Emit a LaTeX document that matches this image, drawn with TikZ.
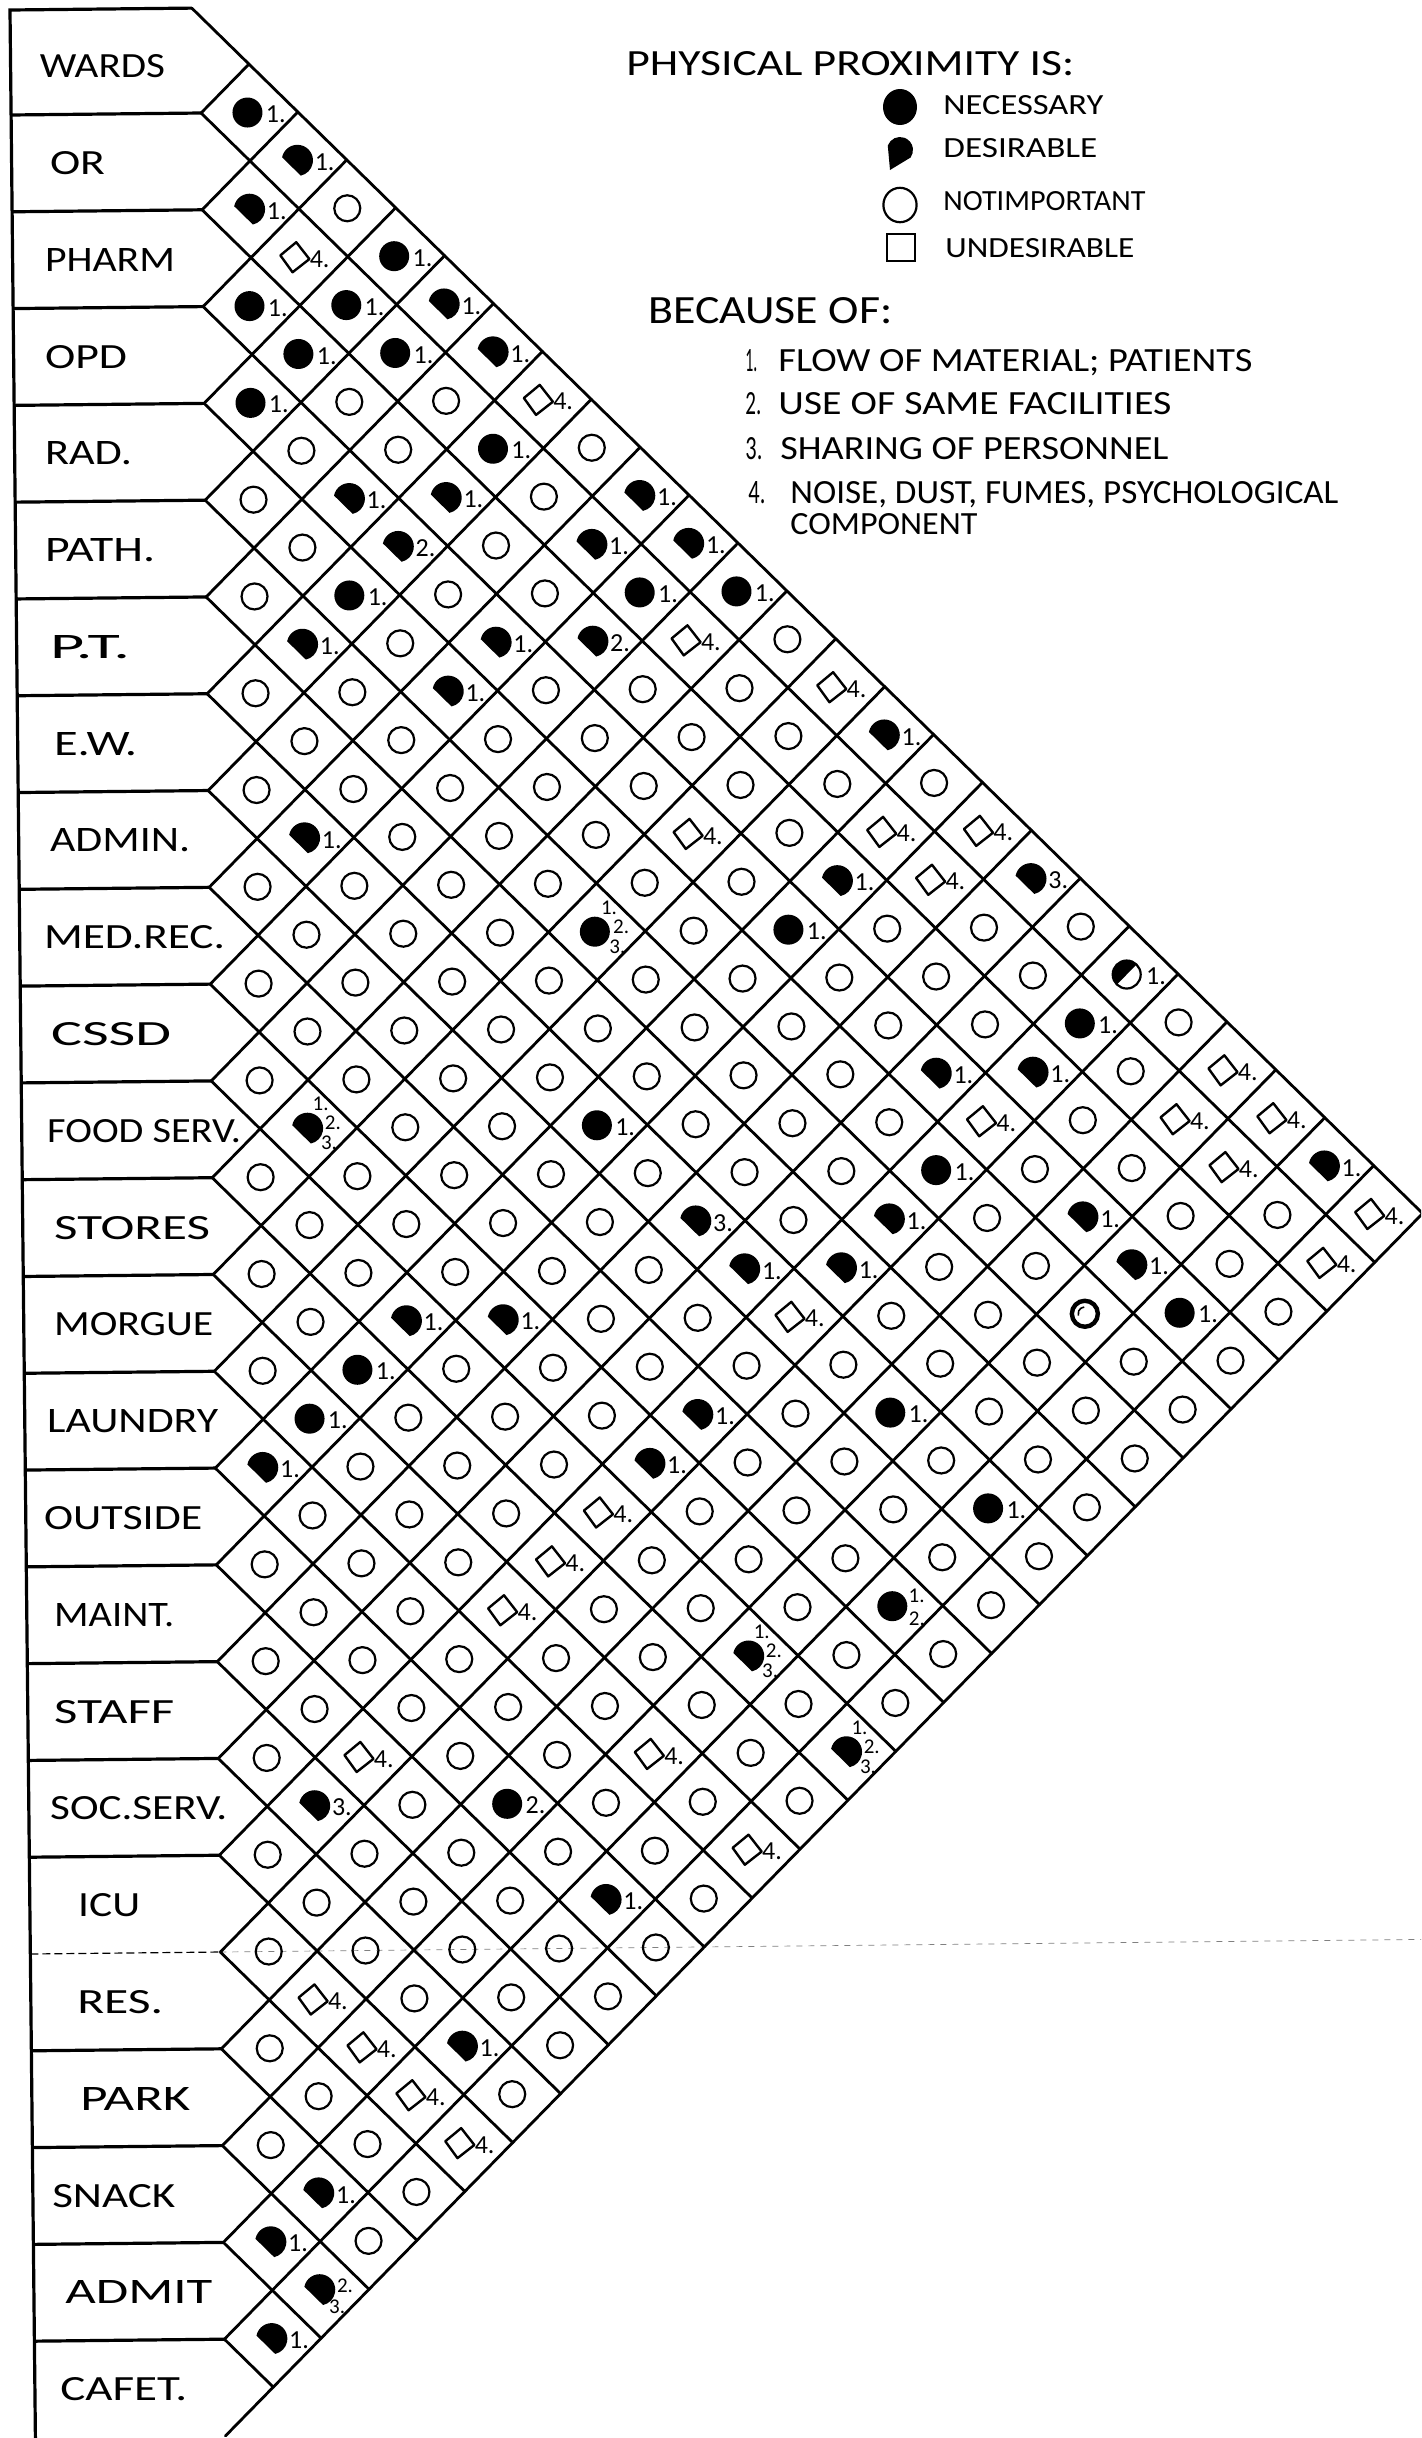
\documentclass[tikz,border=0pt]{standalone}
\usepackage{fontspec}
\setmainfont{Carlito}
\usepackage{graphicx}
% symbol macros (arguments: centre x, centre y in px units, y upward)
\newcommand\drawN[2]{\fill (#1-2,#2) circle[radius=7.5pt];}
\newcommand\drawO[2]{\draw[circ] (#1,#2) circle[radius=6.5pt];}
\newcommand\drawD[2]{\fill (#1-1,#2) ++(168:7.8pt) arc[start angle=168,end angle=-78,radius=7.8pt] -- cycle;}
\newcommand\drawU[2]{\draw[undes] (#1-5,#2) +(-7pt,1pt) -- +(1pt,7.5pt) -- +(7.5pt,-1pt) -- +(-1pt,-7.5pt) -- cycle;}
\newcommand\drawH[2]{\draw[circ] (#1-3,#2) circle[radius=7pt]; \fill (#1-3,#2) ++(45:7pt) arc[start angle=45,end angle=225,radius=7pt] -- cycle;}
\newcommand\drawB[2]{\draw[line width=2.2pt] (#1,#2) circle[radius=6.5pt]; \draw[line width=0.8pt] (#1,#2) ++(95:3.4pt) arc[start angle=95,end angle=195,radius=3.4pt];}
\newcommand\numa[2]{\node[num] (n\i-\j) at (#1+16,#2-2) {1.};}
\newcommand\numb[2]{\node[num] (n\i-\j) at (#1+16,#2-2) {2.};}
\newcommand\numc[2]{\node[num] (n\i-\j) at (#1+16,#2-2) {3.};}
\newcommand\numd[2]{\node[num] (n\i-\j) at (#1+10,#2-2) {4.};}
\newcommand\nume[2]{\node[nums] (n\i-\j-a) at (#1+4,#2+24) {1.}; \node[nums] (n\i-\j-b) at (#1+16,#2+5) {2.}; \node[nums] (n\i-\j-c) at (#1+12,#2-15) {3.};}
\newcommand\numf[2]{\node[nums] (n\i-\j-a) at (#1+14,#2+10) {1.}; \node[nums] (n\i-\j-b) at (#1+14,#2-13) {2.};}
\newcommand\numg[2]{\node[nums] (n\i-\j-b) at (#1+16,#2+4) {2.}; \node[nums] (n\i-\j-c) at (#1+8,#2-17) {3.};}
\newcommand\numz[2]{}
\def\speclist{0/1/N/a, 0/2/D/a, 1/2/D/a, 1/3/U/d, 0/4/N/a, 2/3/N/a, 1/4/N/a, 0/5/D/a, 2/4/N/a, 1/5/N/a, 0/6/D/a, 3/4/N/a, 0/7/U/d, 1/7/N/a, 3/6/D/a, 2/7/D/a, 0/9/D/a, 3/7/D/b, 1/9/D/a, 0/10/D/a, 4/7/N/a, 1/10/N/a, 0/11/N/a, 5/7/D/a, 3/9/D/a, 2/10/D/b, 1/11/U/d, 4/9/D/a, 0/13/U/d, 0/14/D/a, 7/9/D/a, 3/13/U/d, 1/15/U/d, 0/16/U/d, 2/15/D/a, 1/16/U/d, 0/17/D/c, 5/13/N/e, 3/15/N/a, 0/19/H/a, 1/19/N/a, 3/18/D/a, 2/19/D/a, 0/21/U/d, 10/12/D/e, 7/15/N/a, 3/19/U/d, 1/21/U/d, 0/22/U/d, 4/19/N/a, 1/22/U/d, 0/23/D/a, 7/17/D/c, 5/19/D/a, 3/21/D/a, 0/24/U/d, 7/18/D/a, 6/19/D/a, 3/22/D/a, 1/24/U/d, 11/15/D/a, 10/16/D/a, 7/19/U/d, 4/22/B/z, 3/23/N/a, 12/15/N/a, 13/15/N/a, 9/19/D/a, 7/21/N/a, 14/15/D/a, 10/19/D/a, 11/19/U/d, 7/23/N/a, 12/19/U/d, 13/19/U/d, 9/23/N/f, 11/22/D/e, 16/19/U/d, 13/22/U/d, 11/24/D/e, 17/19/D/c, 15/21/N/b, 13/24/U/d, 15/23/D/a, 19/21/U/d, 19/22/U/d, 18/23/D/a, 19/23/U/d, 19/24/U/d, 21/23/D/a, 22/23/D/a, 22/24/D/g, 23/24/D/a}
\newcommand\fitt[3]{\resizebox{#1}{#2}{#3}}
\begin{document}
\begin{tikzpicture}[x=0.5pt,y=0.5pt,
  gridline/.style={line width=1.4pt, line cap=round, line join=round},
  boxline/.style={line width=1.6pt},
  circ/.style={line width=1.1pt},
  undes/.style={line width=1.2pt, line join=round},
  num/.style={font=\fontsize{13}{13}\selectfont, inner sep=0pt, anchor=west},
  nums/.style={font=\fontsize{10.5}{10.5}\selectfont, inner sep=0pt, anchor=west},
  lab/.style={inner sep=0pt, anchor=west},
  leg/.style={inner sep=0pt, anchor=base west}]
\useasboundingbox (0,0) rectangle (1421,-2438);
\fill[white] (0,0) rectangle (1421,-2438);
\begin{scope}
\clip (0,0) rectangle (1421,-2438);
\begin{scope}[rotate around={0.6:(10,-10)}]
  % outer left edge and top of first box
  \draw[boxline] (10,-2460) -- (10,-10) -- (191.8,-10);
  % top hypotenuse
  \draw[gridline] (191.8,-10) -- (1410,-1228.2);
  % horizontal row boundaries of the label column
  \foreach \k in {1,...,24}{
    \pgfmathsetmacro\bk{18.2+96.8*\k}
    \ifnum\k=20
      \draw[line width=0.6pt, dash pattern=on 4pt off 2pt] (10,-\bk) -- (200,-\bk);
      \draw[line width=0.35pt, gray, dash pattern=on 3pt off 3pt] (200,-\bk) -- (1500,-\bk);
    \else
      \draw[boxline] (10,-\bk) -- (200,-\bk);
    \fi
  }
  % diagonal grid lines
  \foreach \k in {1,...,24}{
    \pgfmathsetmacro\bk{18.2+96.8*\k}
    \pgfmathsetmacro\lk{48.4*(25-\k)}
    \draw[gridline] (200,-\bk) -- ++(\lk,-\lk);
  }
  \foreach \k in {1,...,25}{
    \pgfmathsetmacro\bk{18.2+96.8*\k}
    \pgfmathsetmacro\lk{48.4*\k}
    \draw[gridline] (200,-\bk) -- ++(\lk,\lk);
  }
  % labels
  \foreach \k/\xx/\ww/\txt in {0/39/62.5/WARDS, 1/48/27.5/OR, 2/42/65/PHARM, 3/41/41/OPD, 4/40/43.5/RAD., 5/39/55/PATH., 6/43/40/P.T., 7/46/41.5/E.W., 8/41/70/ADMIN., 9/34/90.5/MED.REC., 10/40/60/CSSD, 11/35/97/FOOD SERV., 12/41/78/STORES, 13/40/79.5/MORGUE, 14/32/85.5/LAUNDRY, 15/28/79/OUTSIDE, 16/37/60/MAINT., 17/36/60/STAFF, 18/31/88.5/SOC.SERV., 19/58/31/ICU, 20/56/43/RES., 21/58/55/PARK, 22/29/61.5/SNACK, 23/41/73.5/ADMIT, 24/35/63.5/CAFET.}{
    \pgfmathsetmacro\yy{-(66.6+96.8*\k)}
    \node[lab] (lab\k) at (\xx,\yy) {\fitt{\ww pt}{11.5pt}{\txt}};
  }
  % mark special cells
  \foreach \i/\j/\typ/\nm in \speclist {
    \expandafter\gdef\csname sp-\i-\j\endcsname{x}
  }
  % plain circles (not important)
  \foreach \i in {0,...,23}{
    \pgfmathtruncatemacro\jstart{\i+1}
    \foreach \j in {\jstart,...,24}{
      \ifcsname sp-\i-\j\endcsname\else
        \pgfmathsetmacro\mycx{200+48.4*(\j-\i)}
        \pgfmathsetmacro\mycy{-(66.6+48.4*(\i+\j))}
        \drawO{\mycx}{\mycy}
      \fi
    }
  }
  % special cells
  \foreach \i/\j/\typ/\nm in \speclist {
    \pgfmathsetmacro\mycx{200+48.4*(\j-\i)}
    \pgfmathsetmacro\mycy{-(66.6+48.4*(\i+\j))}
    \csname draw\typ\endcsname{\mycx}{\mycy}
    \csname num\nm\endcsname{\mycx}{\mycy}
  }
\end{scope}
\end{scope}
% legend
\node[leg] (title) at (626,-75) {\fitt{224pt}{12pt}{PHYSICAL PROXIMITY IS:}};
\fill (900,-107) ellipse[x radius=8.5pt, y radius=9pt];
\begin{scope}[shift={(900,-150)}]
  \fill (0,0) ++(160:6.5pt) arc[start angle=160,end angle=-35,radius=6.5pt] -- (-5pt,-10pt) -- cycle;
\end{scope}
\draw[circ] (900,-205) ellipse[x radius=8.3pt, y radius=8.6pt];
\draw[circ] (887,-234) rectangle (915,-261);
\node[leg] (lnec) at (943,-114) {\fitt{80pt}{9.5pt}{NECESSARY}};
\node[leg] (ldes) at (943,-157) {\fitt{77pt}{9.5pt}{DESIRABLE}};
\node[leg] (lnot) at (943,-210.5) {\fitt{101pt}{9.5pt}{NOTIMPORTANT}};
\node[leg] (lund) at (945,-257) {\fitt{94.5pt}{9.5pt}{UNDESIRABLE}};
\node[leg] (because) at (648,-323) {\fitt{122pt}{13pt}{BECAUSE OF:}};
\node[leg] (r1n) at (745,-371) {\fitt{6pt}{11pt}{1.}};
\node[leg] (r1) at (778,-371) {\fitt{237pt}{11pt}{FLOW OF MATERIAL; PATIENTS}};
\node[leg] (r2n) at (745,-414) {\fitt{8pt}{11pt}{2.}};
\node[leg] (r2) at (778,-414) {\fitt{196.5pt}{11pt}{USE OF SAME FACILITIES}};
\node[leg] (r3n) at (745,-459) {\fitt{8.5pt}{11pt}{3.}};
\node[leg] (r3) at (780,-459) {\fitt{194pt}{11pt}{SHARING OF PERSONNEL}};
\node[leg] (r4n) at (748,-503) {\fitt{8.5pt}{11pt}{4.}};
\node[leg] (r4) at (790,-503) {\fitt{274pt}{11pt}{NOISE, DUST, FUMES, PSYCHOLOGICAL}};
\node[leg] (r4b) at (790,-534) {\fitt{93.5pt}{10.5pt}{COMPONENT}};
\end{tikzpicture}
\end{document}
